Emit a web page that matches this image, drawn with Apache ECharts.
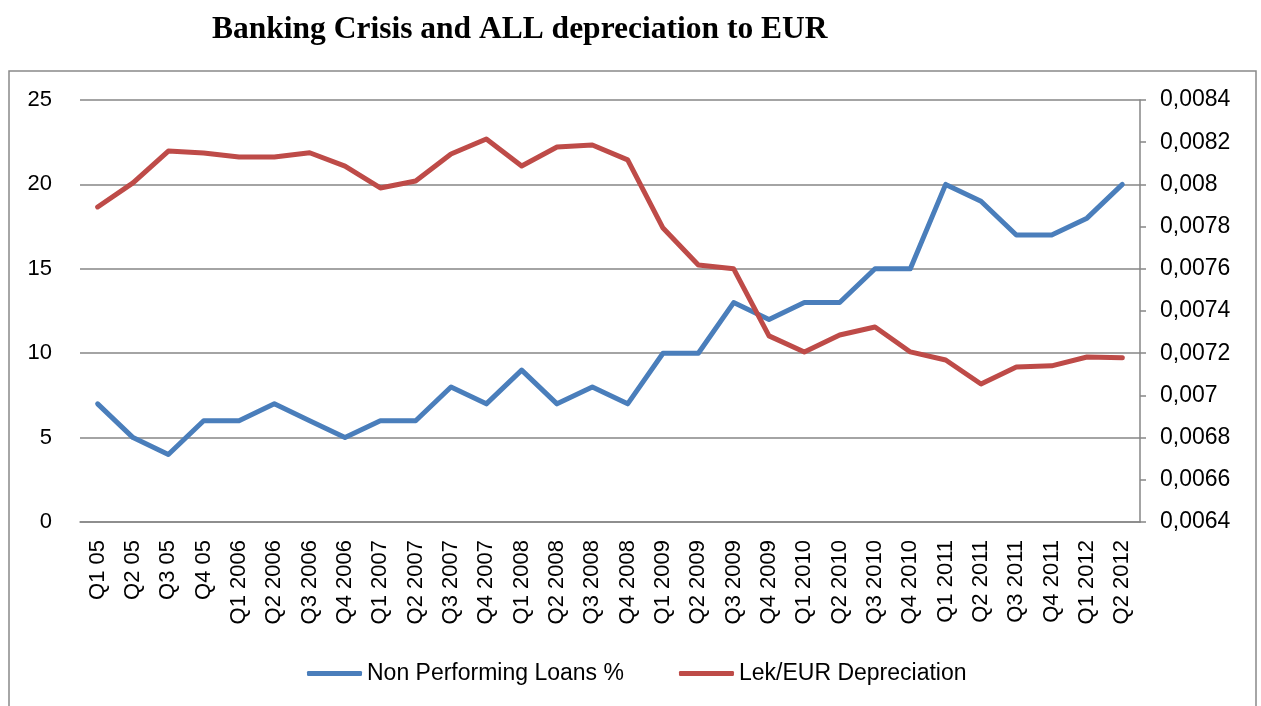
<!DOCTYPE html>
<html>
<head>
<meta charset="utf-8">
<script src="https://cdn.jsdelivr.net/npm/echarts@6/dist/echarts.min.js"></script>
<style>
html,body{margin:0;padding:0;background:#fff;}
#main{width:1261px;height:706px;}
</style>
</head>
<body>
<div id="main"></div>
<script>
const categories = ["Q1 05","Q2 05","Q3 05","Q4 05","Q1 2006","Q2 2006","Q3 2006","Q4 2006","Q1 2007","Q2 2007","Q3 2007","Q4 2007","Q1 2008","Q2 2008","Q3 2008","Q4 2008","Q1 2009","Q2 2009","Q3 2009","Q4 2009","Q1 2010","Q2 2010","Q3 2010","Q4 2010","Q1 2011","Q2 2011","Q3 2011","Q4 2011","Q1 2012","Q2 2012"];
const nplValues = [7,5,4,6,6,7,6,5,6,6,8,7,9,7,8,7,10,10,13,12,13,13,15,15,20,19,17,17,18,20];
const lekEurValues = [0.007893,0.008007,0.008158,0.008149,0.00813,0.00813,0.00815,0.008087,0.007983,0.008016,0.008144,0.008215,0.008087,0.008177,0.008187,0.008116,0.007793,0.007618,0.0076,0.007282,0.007206,0.007286,0.007324,0.007206,0.007168,0.007054,0.007135,0.00714,0.007182,0.007178];
const seriesNames = ["Non Performing Loans %","Lek/EUR Depreciation"];
const titleText = "Banking Crisis and ALL depreciation to EUR";

const chart = echarts.init(document.getElementById('main'), null, {renderer:'canvas'});
const labelFont = {fontFamily:'Liberation Sans, Arial, sans-serif', fontSize:22, color:'#000'};
chart.setOption({
  animation:false,
  backgroundColor:'#fff',
  title:{text:titleText,left:207,top:9,textStyle:{fontFamily:'Liberation Serif, Times New Roman, serif',fontWeight:'bold',fontSize:31.5,color:'#000'}},
  graphic:[{type:'rect',shape:{x:9,y:71,width:1247,height:660},style:{fill:'none',stroke:'#898989',lineWidth:1.5},silent:true,z:-1}],
  grid:{left:80,right:121,top:100,bottom:184,containLabel:false},
  legend:{left:302,top:657,itemWidth:55,itemHeight:5,itemGap:55,icon:'roundRect',
    textStyle:Object.assign({},labelFont,{fontSize:23,padding:[0,0,0,0]}),
    data:[{name:seriesNames[0],itemStyle:{color:'#4a7ebb'}},{name:seriesNames[1],itemStyle:{color:'#be4b48'}}]},
  xAxis:{type:'category',data:categories,boundaryGap:true,
    axisLine:{show:true,lineStyle:{color:'#868686',width:1.5}},axisTick:{show:false},
    axisLabel:Object.assign({},labelFont,{rotate:90,interval:0,margin:18})},
  yAxis:[
    {type:'value',min:0,max:25,interval:5,axisLine:{show:false},axisTick:{show:false},
     splitLine:{lineStyle:{color:'#868686',width:1.5}},axisLabel:Object.assign({},labelFont,{margin:28})},
    {type:'value',min:0.0064,max:0.0084,interval:0.0002,position:'right',
     axisLine:{show:true,lineStyle:{color:'#868686',width:1.5}},
     axisTick:{show:true,length:6,lineStyle:{color:'#868686',width:1.5}},
     splitLine:{show:false},
     axisLabel:Object.assign({},labelFont,{fontSize:23,margin:20,formatter:function(v){let s=v.toFixed(4).replace(/0+$/,'');return s.replace('.',',');}})}
  ],
  series:[
    {name:seriesNames[0],type:'line',yAxisIndex:0,data:nplValues,symbol:'none',lineStyle:{color:'#4a7ebb',width:5,cap:'round',join:'round'},itemStyle:{color:'#4a7ebb'}},
    {name:seriesNames[1],type:'line',yAxisIndex:1,data:lekEurValues,symbol:'none',lineStyle:{color:'#be4b48',width:5,cap:'round',join:'round'},itemStyle:{color:'#be4b48'}}
  ]
});
</script>
</body>
</html>
